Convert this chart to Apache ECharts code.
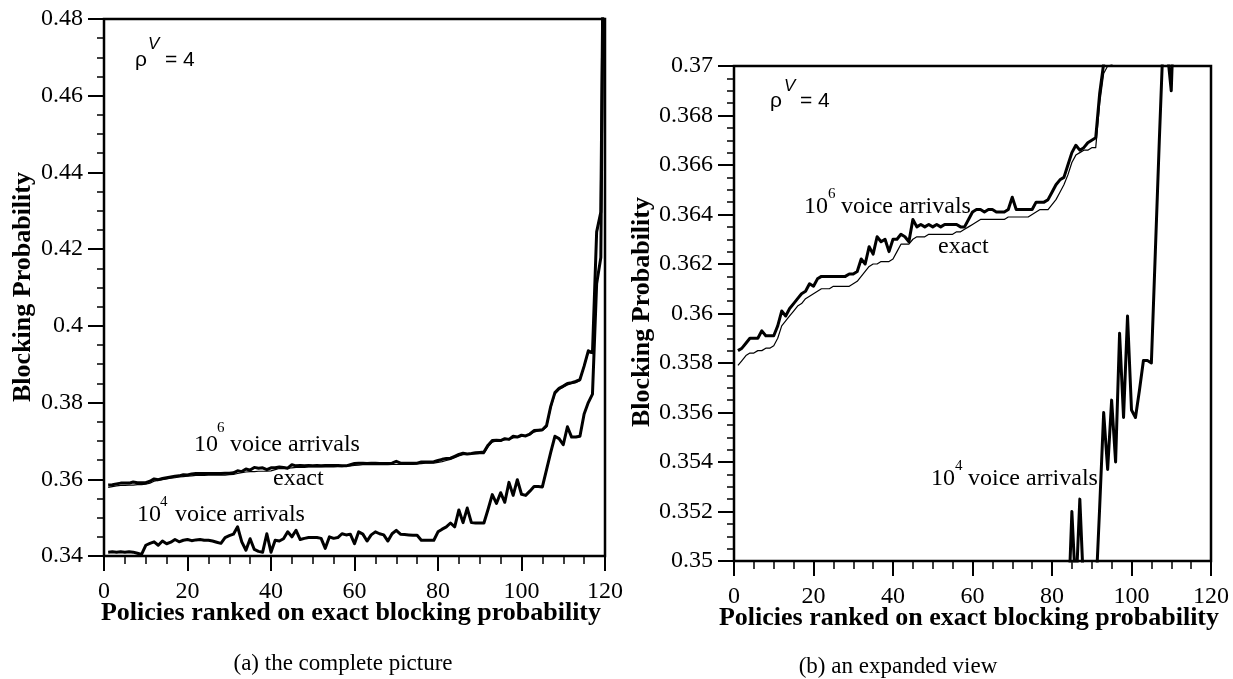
<!DOCTYPE html>
<html>
<head>
<meta charset="utf-8">
<script src="https://cdn.jsdelivr.net/npm/echarts@6/dist/echarts.min.js"></script>
<style>
html,body{margin:0;padding:0;background:#fff;}
#chart{width:1233px;height:679px;}
</style>
</head>
<body>
<div id="chart"></div>
<script>
// ---- data ----
const ranks = [1,2,3,4,5,6,7,8,9,10,11,12,13,14,15,16,17,18,19,20,
  21,22,23,24,25,26,27,28,29,30,31,32,33,34,35,36,37,38,39,40,
  41,42,43,44,45,46,47,48,49,50,51,52,53,54,55,56,57,58,59,60,
  61,62,63,64,65,66,67,68,69,70,71,72,73,74,75,76,77,78,79,80,
  81,82,83,84,85,86,87,88,89,90,91,92,93,94,95,96,97,98,99,100,
  101,102,103,104,105,106,107,108,109,110,111,112,113,114,115,116,117,118,119,120];

const exactBP = [0.3579,0.3581,0.3583,0.3584,0.3584,0.3585,0.3585,0.3586,0.3586,0.3587,
  0.3590,0.3595,0.3597,0.3599,0.3601,0.3603,0.3604,0.3606,0.3607,0.3608,
  0.3609,0.3610,0.3610,0.3610,0.3611,0.3611,0.3611,0.3611,0.3611,0.3612,
  0.3613,0.3615,0.3617,0.3619,0.3620,0.3620,0.3621,0.3621,0.3621,0.3622,
  0.3625,0.3628,0.3628,0.3628,0.3630,0.3631,0.3631,0.3631,0.3632,0.3632,
  0.3632,0.3632,0.3632,0.3632,0.3632,0.3633,0.3633,0.3634,0.3635,0.3636,
  0.3637,0.3638,0.3638,0.3638,0.3638,0.3638,0.3638,0.3638,0.3639,0.3639,
  0.3639,0.3639,0.3639,0.3639,0.3640,0.3641,0.3642,0.3642,0.3642,0.3644,
  0.3646,0.3649,0.3652,0.3656,0.3661,0.3664,0.3665,0.3666,0.3666,0.3667,
  0.3667,0.3685,0.3697,0.3700,0.3700,0.3703,0.3704,0.3708,0.3709,0.3712,
  0.3713,0.3716,0.3723,0.3726,0.3727,0.3736,0.3785,0.3822,0.3834,0.3840,
  0.3846,0.3849,0.3852,0.3857,0.3895,0.3930,0.3928,0.4240,0.4292,0.5500];

const sim1e6BP = [0.3585,0.3586,0.3588,0.3590,0.3590,0.3590,0.3593,0.3591,0.3591,0.3591,
  0.3595,0.3601,0.3599,0.3602,0.3604,0.3606,0.3608,0.3609,0.3612,0.3611,
  0.3614,0.3615,0.3615,0.3615,0.3615,0.3615,0.3615,0.3615,0.3616,0.3616,
  0.3617,0.3622,0.3620,0.3627,0.3624,0.3631,0.3629,0.3630,0.3625,0.3630,
  0.3630,0.3632,0.3631,0.3629,0.3638,0.3635,0.3636,0.3635,0.3636,0.3635,
  0.3636,0.3635,0.3636,0.3636,0.3636,0.3636,0.3635,0.3635,0.3638,0.3641,
  0.3642,0.3642,0.3641,0.3642,0.3642,0.3641,0.3641,0.3641,0.3642,0.3647,
  0.3642,0.3642,0.3642,0.3642,0.3642,0.3645,0.3645,0.3645,0.3646,0.3649,
  0.3652,0.3654,0.3655,0.3660,0.3665,0.3668,0.3666,0.3667,0.3669,0.3670,
  0.3671,0.3689,0.3701,0.3702,0.3701,0.3706,0.3704,0.3712,0.3710,0.3715,
  0.3713,0.3718,0.3727,0.3728,0.3729,0.3740,0.3790,0.3826,0.3837,0.3843,
  0.3850,0.3852,0.3855,0.3860,0.3895,0.3935,0.3930,0.4245,0.4297,0.5500];

const sim1e4BP = [0.3410,0.3411,0.3410,0.3411,0.3410,0.3411,0.3410,0.3407,0.3404,0.3428,
  0.3433,0.3437,0.3428,0.3439,0.3432,0.3436,0.3443,0.3437,0.3441,0.3443,
  0.3440,0.3442,0.3443,0.3441,0.3441,0.3439,0.3436,0.3433,0.3448,0.3453,
  0.3457,0.3476,0.3437,0.3415,0.3445,0.3417,0.3412,0.3410,0.3458,0.3410,
  0.3441,0.3439,0.3445,0.3463,0.3450,0.3467,0.3443,0.3446,0.3448,0.3448,
  0.3448,0.3446,0.3420,0.3450,0.3446,0.3448,0.3458,0.3455,0.3457,0.3432,
  0.3463,0.3457,0.3439,0.3455,0.3463,0.3458,0.3455,0.3439,0.3458,0.3467,
  0.3457,0.3456,0.3455,0.3454,0.3454,0.3441,0.3441,0.3441,0.3441,0.3463,
  0.3470,0.3476,0.3486,0.3476,0.3520,0.3487,0.3525,0.3487,0.3486,0.3486,
  0.3486,0.3522,0.3560,0.3537,0.3565,0.3540,0.3592,0.3558,0.3599,0.3561,
  0.3558,0.3569,0.3581,0.3581,0.3580,0.3625,0.3670,0.3712,0.3706,0.3690,
  0.3737,0.3710,0.3710,0.3712,0.3770,0.3800,0.3822,0.4110,0.4178,0.5500];

const xTicks = [0,20,40,60,80,100,120];
const yTicksA = [0.34,0.36,0.38,0.40,0.42,0.44,0.46,0.48];
const yTicksB = [0.350,0.352,0.354,0.356,0.358,0.360,0.362,0.364,0.366,0.368,0.370];

// ---- build ----
const pairs = (vals) => ranks.map((r, i) => [r, vals[i]]);
const SERIF = '"Liberation Serif","Times New Roman",serif';
const SANS = '"Liberation Sans",Arial,sans-serif';

const labelStyle = (margin) => ({
  color: '#000', fontFamily: 'Liberation Serif', fontSize: 24, margin: margin,
  formatter: (v) => '{t|' + String(+v.toFixed(4)) + '}',
  rich: { t: { fontFamily: 'Liberation Serif', fontSize: 24, color: '#000' } }
});

function xAxisCfg(gi) {
  return {
    type: 'value', gridIndex: gi,
    min: xTicks[0], max: xTicks[xTicks.length - 1], interval: xTicks[1] - xTicks[0],
    axisLine: { lineStyle: { color: '#000', width: 2 } },
    axisTick: { show: true, inside: false, length: 15, lineStyle: { color: '#000', width: 2 } },
    minorTick: { show: true, splitNumber: 4, length: 8, lineStyle: { color: '#000', width: 1.5 } },
    splitLine: { show: false },
    axisLabel: labelStyle(24)
  };
}
function yAxisCfg(gi, ticks) {
  return {
    type: 'value', gridIndex: gi,
    min: ticks[0], max: ticks[ticks.length - 1],
    interval: +(ticks[1] - ticks[0]).toFixed(6),
    axisLine: { lineStyle: { color: '#000', width: 2 } },
    axisTick: { show: true, inside: false, length: 16, lineStyle: { color: '#000', width: 2 } },
    minorTick: { show: true, splitNumber: 4, length: 7, lineStyle: { color: '#000', width: 1.5 } },
    splitLine: { show: false },
    axisLabel: labelStyle(21)
  };
}
function lineSeries(gi, vals, w) {
  return {
    type: 'line', xAxisIndex: gi, yAxisIndex: gi, data: pairs(vals),
    symbol: 'none', clip: true, smooth: false,
    lineStyle: { color: '#000', width: w, join: 'round' }
  };
}
function txt(x, y, text, font, extra) {
  return Object.assign({
    type: 'text', x: x, y: y, silent: true,
    style: { text: text, font: font, fill: '#000', textAlign: 'left', textVerticalAlign: 'middle' }
  }, extra || {});
}
function ctxt(x, y, text, font, rot) {
  return {
    type: 'text', x: x, y: y, rotation: rot || 0, silent: true,
    style: { text: text, font: font, fill: '#000', textAlign: 'center', textVerticalAlign: 'middle' }
  };
}

const chart = echarts.init(document.getElementById('chart'), null, { renderer: 'canvas' });
const F_TITLE = 'bold 26px ' + SERIF;
const F_ANN = '24px ' + SERIF;
const F_SUP = '15px ' + SERIF;
const F_CAP = '23px ' + SERIF;

chart.setOption({
  animation: false,
  backgroundColor: '#fff',
  textStyle: { fontFamily: 'Liberation Serif' },
  grid: [
    { left: 104, top: 19, width: 501, height: 537, show: true, borderColor: '#000', borderWidth: 2.5, backgroundColor: 'transparent' },
    { left: 734, top: 66, width: 477, height: 495, show: true, borderColor: '#000', borderWidth: 2.5, backgroundColor: 'transparent' }
  ],
  xAxis: [xAxisCfg(0), xAxisCfg(1)],
  yAxis: [yAxisCfg(0, yTicksA), yAxisCfg(1, yTicksB)],
  series: [
    lineSeries(0, exactBP, 1.2),
    lineSeries(0, sim1e6BP, 3),
    lineSeries(0, sim1e4BP, 3),
    lineSeries(1, exactBP, 1.2),
    lineSeries(1, sim1e6BP, 3),
    lineSeries(1, sim1e4BP, 3)
  ],
  graphic: [
    // axis titles
    ctxt(351, 613, 'Policies ranked on exact blocking probability', F_TITLE),
    ctxt(969, 618, 'Policies ranked on exact blocking probability', F_TITLE),
    ctxt(23, 287, 'Blocking Probability', F_TITLE, Math.PI / 2),
    ctxt(642, 312, 'Blocking Probability', F_TITLE, Math.PI / 2),
    // captions
    ctxt(343, 664, '(a) the complete picture', F_CAP),
    ctxt(898, 667, '(b) an expanded view', F_CAP),
    // panel a annotations
    txt(135, 60, 'ρ', '21px ' + SANS),
    txt(148, 44, 'V', 'italic 17px ' + SANS),
    txt(165, 60, '= 4', '21px ' + SANS),
    txt(194, 445, '10', F_ANN),
    txt(217, 428, '6', F_SUP),
    txt(230, 445, 'voice arrivals', F_ANN),
    txt(273, 479, 'exact', F_ANN),
    txt(137, 515, '10', F_ANN),
    txt(160, 502, '4', F_SUP),
    txt(175, 515, 'voice arrivals', F_ANN),
    // panel b annotations
    txt(770, 101, 'ρ', '21px ' + SANS),
    txt(784, 86, 'V', 'italic 17px ' + SANS),
    txt(800, 101, '= 4', '21px ' + SANS),
    txt(804, 207, '10', F_ANN),
    txt(828, 194, '6', F_SUP),
    txt(841, 207, 'voice arrivals', F_ANN),
    txt(938, 247, 'exact', F_ANN),
    txt(931, 479, '10', F_ANN),
    txt(955, 466, '4', F_SUP),
    txt(968, 479, 'voice arrivals', F_ANN)
  ]
});
</script>
</body>
</html>
